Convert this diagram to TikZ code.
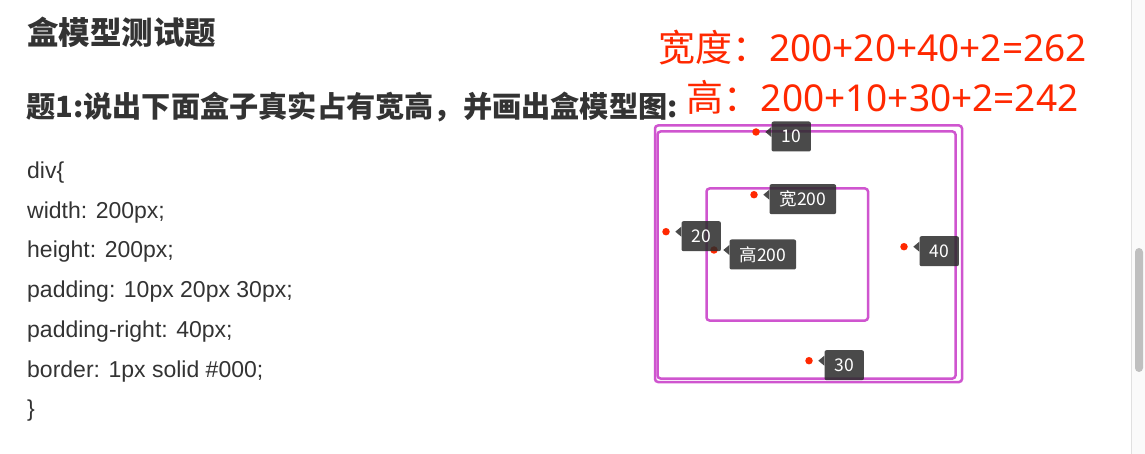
\documentclass[tikz,border=0pt]{standalone}
\usepackage{fontspec}
\setmainfont{Liberation Sans}
\newfontfamily\cjk{Noto Sans CJK SC}
\newfontfamily\digits{Noto Sans}
\usetikzlibrary{positioning}
\definecolor{boxline}{RGB}{207,85,207}
\definecolor{note}{RGB}{255,40,0}
\definecolor{ink}{RGB}{51,51,51}
\definecolor{tipgray}{RGB}{43,43,43}

\begin{document}
\begin{tikzpicture}[x=1pt,y=-1pt,
  box/.style={draw=boxline,line width=2.5pt,rounded corners=3pt},
  dot/.style={circle,fill=note,inner sep=0pt,minimum size=7.5pt},
  tip/.style={fill=tipgray,fill opacity=0.85,text opacity=1,text=white,rounded corners=2pt,
    inner xsep=10pt,inner ysep=0pt,minimum height=30pt,font=\cjk\fontsize{17.5}{20}\selectfont},
  code/.style={anchor=base west,inner sep=0pt,text=ink,font=\fontsize{23}{28}\selectfont},
  sum/.style={anchor=base west,inner sep=0pt,text=note,font=\cjk\fontsize{37}{44}\selectfont}]
\useasboundingbox (0,0) rectangle (1145,454);
\fill[white] (0,0) rectangle (1145,454);

% headings
\node[anchor=west,inner sep=0pt,text=ink,font=\cjk\bfseries\fontsize{31.5}{36}\selectfont] (title) at (27,32.5) {盒模型测试题};
\node[anchor=west,inner sep=0pt,text=ink,font=\cjk\bfseries\fontsize{29.2}{34}\selectfont] (question) at (26,107.5) {题1:说出下面盒子真实占有宽高，并画出盒模型图:};

% css code
\node[code] (cdiv) at (27,179) {div\{};
\node[code] (cwidth) at (27,219) {width: 200px;};
\node[code] (cheight) at (27,258) {height: 200px;};
\node[code] (cpad) at (27,298) {padding: 10px 20px 30px;};
\node[code] (cpadr) at (27,337) {padding-right: 40px;};
\node[code] (cborder) at (27,377) {border: 1px solid \#000;};
\node[code] (cend) at (27,416) {\}};

% answer
\node[sum] (wsum) at (658,62) {宽度：{\digits 200+20+40+2=262}};
\node[sum] (hsum) at (686.7,111.7) {高：{\digits 200+10+30+2=242}};

% boxes
\draw[box] (655,125.5) rectangle (962,382);
\draw[box] (657.5,131.5) rectangle (955.5,378.5);
\draw[box] (706.5,188.5) rectangle (868,320.5);

% marks
\node[dot] (d10) at (756,132) {};
\node[dot] (dw) at (754,194.7) {};
\node[dot] (d20) at (666,231.7) {};
\node[dot] (dh) at (714,250) {};
\node[dot] (d40) at (904,246.7) {};
\node[dot] (d30) at (809,360.7) {};

% tips
\node[tip,right=15.3pt of d10.center,yshift=-4.5pt] (l10) {10};
\fill[tipgray,fill opacity=0.85] ([yshift=9.5pt]l10.west) -- ([xshift=-6pt,yshift=4.5pt]l10.west) -- ([yshift=-0.5pt]l10.west) -- cycle;
\node[tip,right=15.3pt of dw.center,yshift=-4.5pt] (lw) {宽200};
\fill[tipgray,fill opacity=0.85] ([yshift=9.5pt]lw.west) -- ([xshift=-6pt,yshift=4.5pt]lw.west) -- ([yshift=-0.5pt]lw.west) -- cycle;
\node[tip,right=15.3pt of d20.center,yshift=-4.5pt] (l20) {20};
\fill[tipgray,fill opacity=0.85] ([yshift=9.5pt]l20.west) -- ([xshift=-6pt,yshift=4.5pt]l20.west) -- ([yshift=-0.5pt]l20.west) -- cycle;
\node[tip,right=15.3pt of dh.center,yshift=-4.5pt] (lh) {高200};
\fill[tipgray,fill opacity=0.85] ([yshift=9.5pt]lh.west) -- ([xshift=-6pt,yshift=4.5pt]lh.west) -- ([yshift=-0.5pt]lh.west) -- cycle;
\node[tip,right=15.3pt of d40.center,yshift=-4.5pt] (l40) {40};
\fill[tipgray,fill opacity=0.85] ([yshift=9.5pt]l40.west) -- ([xshift=-6pt,yshift=4.5pt]l40.west) -- ([yshift=-0.5pt]l40.west) -- cycle;
\node[tip,right=15.3pt of d30.center,yshift=-4.5pt] (l30) {30};
\fill[tipgray,fill opacity=0.85] ([yshift=9.5pt]l30.west) -- ([xshift=-6pt,yshift=4.5pt]l30.west) -- ([yshift=-0.5pt]l30.west) -- cycle;

% scrollbar
\fill[black!2] (1131,0) rectangle (1145,454);
\draw[black!12,line width=1pt] (1131.5,0) -- (1131.5,454);
\fill[black!25,rounded corners=4pt] (1135,248) rectangle (1143,372);
\end{tikzpicture}
\end{document}
